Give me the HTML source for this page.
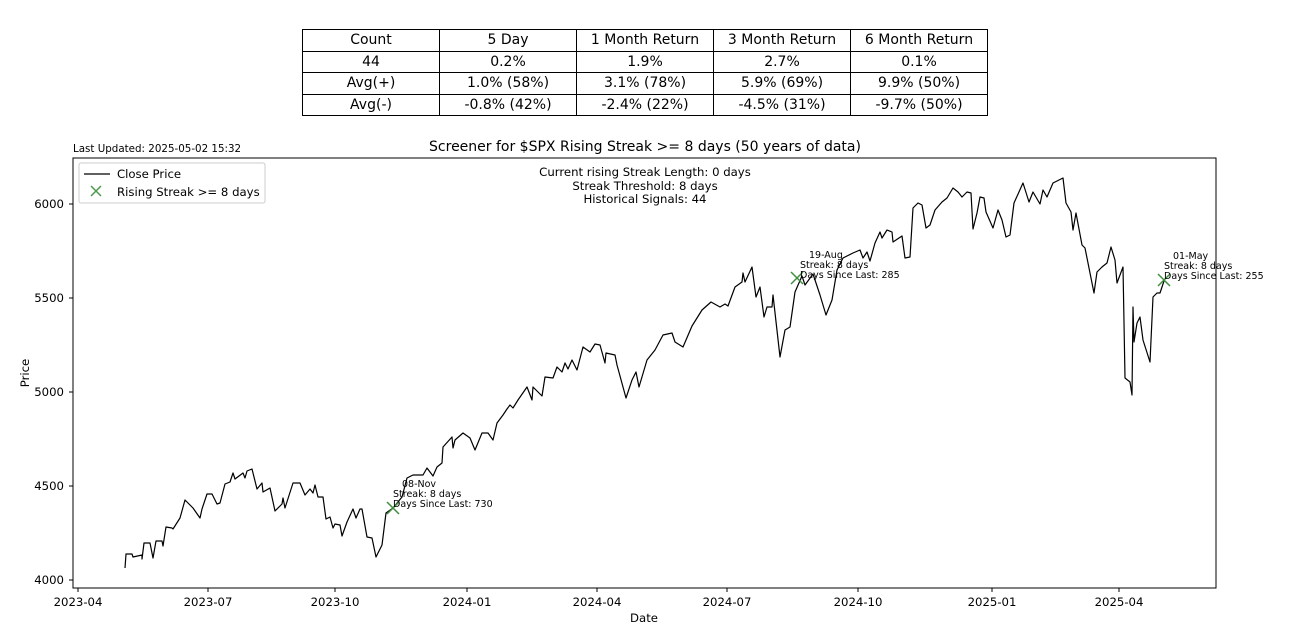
<!DOCTYPE html>
<html><head><meta charset="utf-8"><style>
body{margin:0;background:#fff;width:1292px;height:634px;overflow:hidden;font-family:"Liberation Sans","DejaVu Sans",sans-serif}
table{position:absolute;left:302px;top:29px;border-collapse:collapse;font-family:"DejaVu Sans","Liberation Sans",sans-serif;font-size:14px}
td{border:1px solid #000;width:136px;height:20.5px;padding:0;text-align:center;line-height:20px}
</style></head><body>
<table>
<tr><td>Count</td><td>5 Day</td><td>1 Month Return</td><td>3 Month Return</td><td>6 Month Return</td></tr>
<tr><td>44</td><td>0.2%</td><td>1.9%</td><td>2.7%</td><td>0.1%</td></tr>
<tr><td>Avg(+)</td><td>1.0% (58%)</td><td>3.1% (78%)</td><td>5.9% (69%)</td><td>9.9% (50%)</td></tr>
<tr><td>Avg(-)</td><td>-0.8% (42%)</td><td>-2.4% (22%)</td><td>-4.5% (31%)</td><td>-9.7% (50%)</td></tr>
</table>
<svg width="1292" height="634" style="position:absolute;left:0;top:0" font-family="DejaVu Sans, Liberation Sans, sans-serif">
<rect x="73" y="158" width="1143" height="430" fill="none" stroke="#000" stroke-width="1"/>
<g font-size="11.7" text-anchor="end" fill="#000">
<text x="64" y="584">4000</text><line x1="69" x2="73" y1="580" y2="580" stroke="#000"/>
<text x="64" y="490">4500</text><line x1="69" x2="73" y1="486" y2="486" stroke="#000"/>
<text x="64" y="396">5000</text><line x1="69" x2="73" y1="392" y2="392" stroke="#000"/>
<text x="64" y="302">5500</text><line x1="69" x2="73" y1="298" y2="298" stroke="#000"/>
<text x="64" y="208">6000</text><line x1="69" x2="73" y1="204" y2="204" stroke="#000"/>
</g>
<g font-size="11" text-anchor="middle" stroke="#000">
<line x1="78" x2="78" y1="588" y2="592"/><line x1="208" x2="208" y1="588" y2="592"/><line x1="335" x2="335" y1="588" y2="592"/><line x1="467" x2="467" y1="588" y2="592"/><line x1="597" x2="597" y1="588" y2="592"/><line x1="727" x2="727" y1="588" y2="592"/><line x1="858" x2="858" y1="588" y2="592"/><line x1="992" x2="992" y1="588" y2="592"/><line x1="1119" x2="1119" y1="588" y2="592"/>
</g>
<g font-size="11.7" text-anchor="middle" fill="#000">
<text x="78" y="606">2023-04</text><text x="208" y="606">2023-07</text><text x="335" y="606">2023-10</text><text x="467" y="606">2024-01</text><text x="597" y="606">2024-04</text><text x="727" y="606">2024-07</text><text x="858" y="606">2024-10</text><text x="992" y="606">2025-01</text><text x="1119" y="606">2025-04</text>
<text x="644" y="622">Date</text>
<text x="645" y="151" font-size="14">Screener for $SPX Rising Streak &gt;= 8 days (50 years of data)</text>
<text x="645" y="176">Current rising Streak Length: 0 days</text>
<text x="645" y="190">Streak Threshold: 8 days</text>
<text x="645" y="203">Historical Signals: 44</text>
</g>
<text x="29" y="373" font-size="11.7" text-anchor="middle" transform="rotate(-90 29 373)">Price</text>
<text x="73" y="152" font-size="10.3">Last Updated: 2025-05-02 15:32</text>
<rect x="79" y="163" width="186" height="40" fill="#fff" stroke="#ccc" rx="2"/>
<line x1="84" x2="110" y1="174" y2="174" stroke="#000" stroke-width="1.2"/>
<text x="117" y="178" font-size="11.7">Close Price</text>
<path d="M91 186l10 10M101 186l-10 10" stroke="#4c9a4c" stroke-width="1.5"/>
<text x="117" y="196" font-size="11.7">Rising Streak &gt;= 8 days</text>
<polyline fill="none" stroke="#000" stroke-width="1.2" stroke-linejoin="round" points="125,568 126,554 132,554 133,557 142,555 142,559 144,543 150,543 153,558 156,541 162,541 163,546 166,527 172,528 173,529 180,518 185,500 193,508 200,518 202,509 207,494 212,494 217,504 220,503 225,484 230,482 233,473 235,479 243,473 245,478 247,471 252,469 257,489 262,483 263,492 270,488 275,511 282,504 283,498 285,508 293,483 300,483 305,495 310,489 313,493 315,485 318,497 323,497 326,519 330,517 333,528 335,524 340,525 342,536 347,522 353,509 356,518 360,509 362,509 367,537 372,538 376,557 382,545 386,513 393,508 402,497 407,478 413,475 423,475 427,468 433,476 437,467 442,463 443,447 452,437 453,448 455,440 463,433 470,438 475,450 482,433 488,433 493,440 497,423 503,415 507,409 510,405 513,408 518,400 527,387 532,400 533,387 542,396 545,377 553,378 557,367 562,372 565,363 568,369 572,360 577,370 583,347 590,352 595,344 600,345 605,363 606,353 615,355 617,365 626,398 632,380 636,372 639,387 647,360 655,350 663,335 672,333 675,342 683,347 692,326 702,310 711,302 720,307 725,304 728,306 735,287 742,282 743,273 745,282 752,267 756,297 760,287 764,317 767,307 772,307 773,295 780,357 785,330 790,327 795,292 802,276 805,285 813,274 820,295 826,315 832,300 837,270 843,258 853,253 860,250 863,258 867,252 870,261 875,243 880,232 882,238 887,230 892,232 893,242 902,236 905,258 910,257 913,208 918,203 922,205 926,228 930,225 935,210 942,202 947,198 953,188 958,192 962,197 967,192 971,193 973,229 977,213 980,197 984,198 986,212 993,228 998,210 1002,220 1006,237 1010,235 1014,203 1023,183 1029,202 1033,192 1040,204 1043,190 1047,197 1053,183 1063,178 1066,203 1071,212 1073,230 1076,213 1082,245 1085,248 1092,283 1094,293 1097,272 1102,267 1107,263 1111,247 1115,260 1117,283 1123,267 1125,378 1130,382 1132,395 1133,307 1134,342 1137,323 1140,317 1143,340 1150,362 1153,297 1157,293 1160,293 1164,281"/>
<g stroke="#3f8f3f" stroke-width="1.5">
<path d="M387 502l12 12M399 502l-12 12"/>
<path d="M791 272l12 12M803 272l-12 12"/>
<path d="M1158 274l12 12M1170 274l-12 12"/>
</g>
<g font-size="9.5" fill="#000">
<text x="402" y="487">08-Nov</text><text x="393" y="497">Streak: 8 days</text><text x="393" y="507">Days Since Last: 730</text>
<text x="809" y="258">19-Aug</text><text x="800" y="268">Streak: 8 days</text><text x="800" y="278">Days Since Last: 285</text>
<text x="1173" y="259">01-May</text><text x="1164" y="269">Streak: 8 days</text><text x="1164" y="279">Days Since Last: 255</text>
</g>
</svg>
</body></html>
